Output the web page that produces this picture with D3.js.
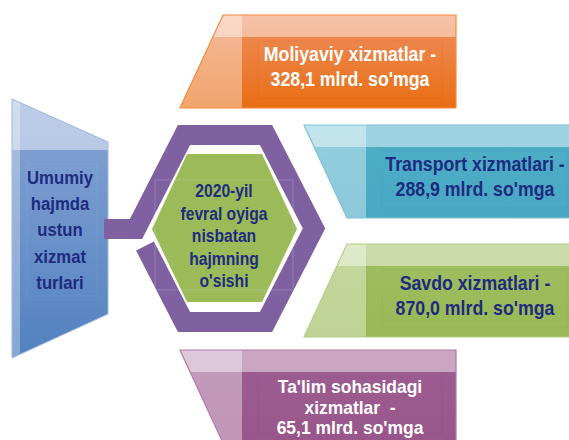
<!DOCTYPE html>
<html lang="en">
<head>
<meta charset="utf-8">
<title>Xizmatlar</title>
<script src="https://d3js.org/d3.v7.min.js"></script>
<style>
  body { margin: 0; background: #fff; }
  svg { display: block; font-family: "Liberation Sans", Arial, sans-serif; font-weight: bold; }
  text { white-space: pre; }
</style>
</head>
<body>
<script>
// data
var services = ["Moliyaviy xizmatlar", "Transport xizmatlari", "Savdo xizmatlari", "Ta'lim sohasidagi xizmatlar"];
var values = [328.1, 288.9, 870.0, 65.1];
var unit = "mlrd. so'mga";
var leftTitle = ["Umumiy", "hajmda", "ustun", "xizmat", "turlari"];
var centerTitle = ["2020-yil", "fevral oyiga", "nisbatan", "hajmning", "o'sishi"];

var w = 569, h = 440;
var navy = "#1f2b80";

// box look per service
var fills = d3.scaleOrdinal().domain(services).range([["#ef9064", "#e86c0e"], ["#4fb0c9", "#48a7c3"], ["#a0be62", "#98b955"], ["#9e5e92", "#99568b"]]);
var edges = d3.scaleOrdinal().domain(services).range(["#f48a3c", "#7cc4d8", "#b4cf84", "#b479ab"]);
var textColor = d3.scaleOrdinal().domain(services).range(["#fff", navy, navy, "#fff"]);

// layout
var yScale = d3.scaleOrdinal().domain(services).range([15, 125, 244, 350]);
var xLeft = d3.scaleOrdinal().domain(services).range([180, 304, 304, 180]);
var xRight = d3.scaleOrdinal().domain(services).range([456, 582, 582, 456]);
var boxH = 93, slant = 43, bandH = 22;

var fmt = d3.format(".1f");
function valueText(v) { return fmt(v).replace(".", ",") + " " + unit; }

function lines(name, i) {
  var words = name.split(" ");
  if (name.length > 22) {
    return [words.slice(0, -1).join(" "), words[words.length - 1] + "  -", valueText(values[i])];
  }
  return [name + " -", valueText(values[i])];
}

var svg = d3.select("body").append("svg")
  .attr("width", w)
  .attr("height", h);

var defs = svg.append("defs");

function vGrad(id, c0, c1) {
  var g = defs.append("linearGradient").attr("id", id)
    .attr("x1", 0).attr("y1", 0).attr("x2", 0).attr("y2", 1);
  g.append("stop").attr("offset", "0%").attr("stop-color", c0);
  g.append("stop").attr("offset", "100%").attr("stop-color", c1);
}

function squeezedText(g, txt, cx, y, size, color, sx) {
  g.append("text")
    .attr("transform", "translate(" + cx + "," + y + ") scale(" + sx + ",1)")
    .attr("text-anchor", "middle")
    .attr("font-size", size)
    .attr("fill", color)
    .text(txt);
}

// ---- left blue block ----
vGrad("blueGrad", "#8aa6d5", "#4f80bf");
var blue = svg.append("g");
var bluePts = [[12, 99], [108, 142], [108, 314], [12, 358]];
defs.append("clipPath").attr("id", "clipBlue")
  .append("polygon").attr("points", bluePts.join(" "));
var bc = blue.append("g").attr("clip-path", "url(#clipBlue)");
bc.append("rect").attr("x", 0).attr("y", 90).attr("width", 120).attr("height", 280).attr("fill", "url(#blueGrad)");
bc.append("rect").attr("x", 0).attr("y", 90).attr("width", 120).attr("height", 60).attr("fill", "#fff").attr("opacity", 0.45);
bc.append("rect").attr("x", 0).attr("y", 90).attr("width", 20).attr("height", 280).attr("fill", "#fff").attr("opacity", 0.3);
blue.append("polygon").attr("points", bluePts.join(" "))
  .attr("fill", "none").attr("stroke", "#9fb7de").attr("stroke-width", 1);
blue.append("rect").attr("x", 27).attr("y", 164).attr("width", 70).attr("height", 132)
  .attr("fill", "none").attr("stroke", "#a8bfe4").attr("stroke-width", 0.5).attr("opacity", 0.35);
leftTitle.forEach(function(t, i) {
  squeezedText(blue, t, 60, 184 + i * 26.2, 19, navy, 0.88);
});

// ---- hexagon ring and connector ----
var ring = [[145, 246], [184, 322], [266, 322], [314, 228.5], [266, 135], [184, 135], [136, 229], [104, 229]];
svg.append("path")
  .attr("d", d3.line()(ring))
  .attr("fill", "none")
  .attr("stroke", "#7f60a0")
  .attr("stroke-width", 20)
  .attr("stroke-linejoin", "miter");

var hex = [[187, 154], [262, 154], [297, 229], [262, 302], [187, 302], [152, 229]];
svg.append("polygon").attr("points", hex.join(" ")).attr("fill", "#9bbb59");
svg.append("rect").attr("x", 155).attr("y", 180).attr("width", 138).attr("height", 110)
  .attr("fill", "none").attr("stroke", "#cfe0f4").attr("stroke-width", 0.5).attr("opacity", 0.5);
var hexText = svg.append("g");
centerTitle.forEach(function(t, i) {
  squeezedText(hexText, t, 224, 197 + i * 22.5, 18, navy, 0.87);
});

// ---- service boxes ----
services.forEach(function(s, i) {
  var y = yScale(s), x0 = xLeft(s), xr = xRight(s);
  var leanRight = (i % 2 === 0);
  var pts = leanRight
    ? [[x0 + slant, y], [xr, y], [xr, y + boxH], [x0, y + boxH]]
    : [[x0, y], [xr, y], [xr, y + boxH], [x0 + slant, y + boxH]];
  var stripEnd = x0 + slant + 19;
  vGrad("grad" + i, fills(s)[0], fills(s)[1]);
  defs.append("clipPath").attr("id", "clip" + i)
    .append("polygon").attr("points", pts.join(" "));

  var g = svg.append("g");
  var c = g.append("g").attr("clip-path", "url(#clip" + i + ")");
  c.append("rect").attr("x", x0 - 5).attr("y", y - 5).attr("width", xr - x0 + 10).attr("height", boxH + 10)
    .attr("fill", "url(#grad" + i + ")");
  c.append("rect").attr("x", x0 - 5).attr("y", y - 5).attr("width", xr - x0 + 10).attr("height", bandH + 5)
    .attr("fill", "#fff").attr("opacity", 0.45);
  c.append("rect").attr("x", x0 - 5).attr("y", y - 5).attr("width", stripEnd - x0 + 5).attr("height", boxH + 10)
    .attr("fill", "#fff").attr("opacity", 0.38);
  g.append("polygon").attr("points", pts.join(" "))
    .attr("fill", "none").attr("stroke", edges(s)).attr("stroke-width", 1.2);

  var tl = lines(s, i);
  var three = tl.length === 3;
  var lh = three ? 20.5 : 24.5;
  var mid = y + (three ? 57 : 52);
  var size = three ? 18 : 19.5;
  var cx = (stripEnd + xr) / 2 + 1;
  g.append("rect").attr("x", stripEnd + 16).attr("y", y + 26).attr("width", xr - stripEnd - 30).attr("height", boxH - 36)
    .attr("fill", "none").attr("stroke", "#000").attr("stroke-width", 0.5).attr("opacity", 0.07);
  tl.forEach(function(t, k) {
    var cy = mid + (k - (tl.length - 1) / 2) * lh;
    squeezedText(g, t, cx, cy + 6.5, size, textColor(s), three ? 0.97 : 0.91);
  });
});
</script>
</body>
</html>
